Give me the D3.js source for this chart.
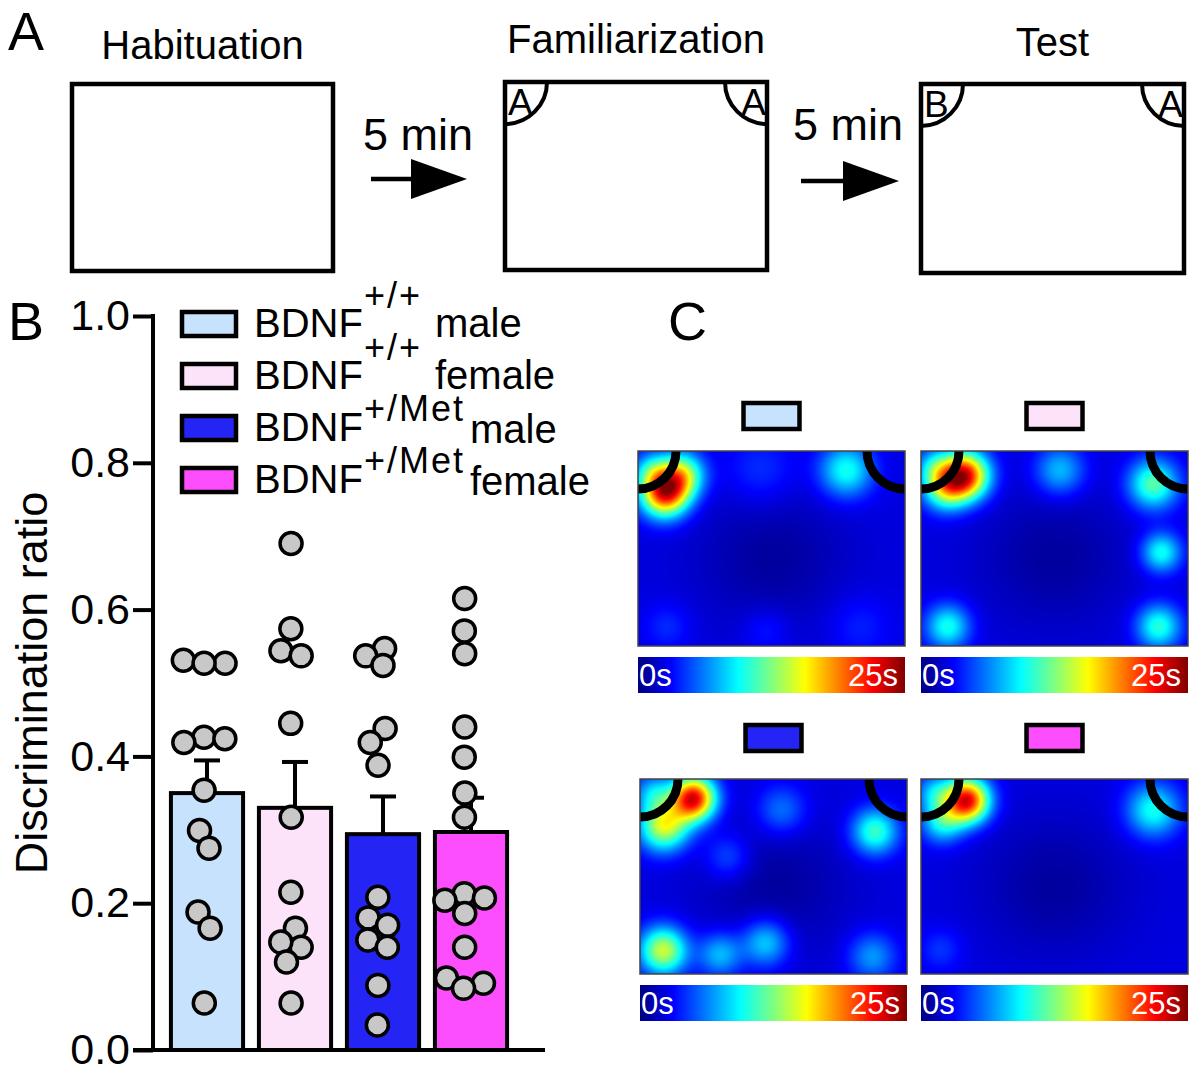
<!DOCTYPE html>
<html>
<head>
<meta charset="utf-8">
<script src="https://cdn.jsdelivr.net/npm/d3@7"></script>
<style>
  body { margin: 0; background: #fff; }
  svg { display: block; font-family: Arial, "Liberation Sans", Helvetica, sans-serif; }
</style>
</head>
<body>
<svg id="fig" width="1193" height="1073"></svg>
<script>
// ---- data ----
const groups = ["wtMale", "wtFemale", "metMale", "metFemale"];
const genotypes = ["+/+", "+/+", "+/Met", "+/Met"];
const sexes = ["male", "female", "male", "female"];
const barColors = ["#c6e2fc", "#fde3fa", "#2424f4", "#fc4efc"];

// discrimination ratio of each animal
const wtMale = [0.527, 0.531, 0.527, 0.426, 0.419, 0.424, 0.354, 0.299, 0.275, 0.188, 0.166, 0.064];
const wtFemale = [0.690, 0.574, 0.544, 0.537, 0.445, 0.317, 0.215, 0.166, 0.140, 0.147, 0.120, 0.064];
const metMale = [0.547, 0.537, 0.524, 0.438, 0.419, 0.388, 0.208, 0.180, 0.170, 0.150, 0.140, 0.088, 0.034];
const metFemale = [0.615, 0.571, 0.540, 0.440, 0.399, 0.350, 0.317, 0.213, 0.207, 0.204, 0.186, 0.140, 0.098, 0.091, 0.084];
const yTicks = [0, 0.2, 0.4, 0.6, 0.8, 1.0];

// panel A protocol
const stages = ["Habituation", "Familiarization", "Test"];
const stageObjects = [[], ["A", "A"], ["B", "A"]];
const interval = "5 min";

// panel C occupancy hotspots: [x (0-1), y (0-1), level, spread]
const heatWtMale = [[0.10, 0.215, 0.76, 0.062], [0.165, 0.12, 0.42, 0.058], [0.05, 0.10, 0.20, 0.05],
  [0.78, 0.10, 0.30, 0.07], [0.46, 0.10, 0.08, 0.09], [0.11, 0.90, 0.07, 0.06], [0.48, 0.92, 0.06, 0.06], [0.83, 0.90, 0.06, 0.08]];
const heatWtFemale = [[0.165, 0.125, 0.76, 0.062], [0.09, 0.19, 0.40, 0.058], [0.05, 0.08, 0.20, 0.05],
  [0.52, 0.10, 0.22, 0.065], [0.87, 0.17, 0.37, 0.065], [0.90, 0.52, 0.30, 0.052], [0.10, 0.90, 0.30, 0.058], [0.89, 0.90, 0.32, 0.058]];
const heatMetMale = [[0.20, 0.10, 0.80, 0.058], [0.09, 0.24, 0.50, 0.065], [0.05, 0.07, 0.20, 0.05],
  [0.53, 0.16, 0.15, 0.065], [0.88, 0.27, 0.34, 0.06], [0.33, 0.40, 0.12, 0.06],
  [0.087, 0.88, 0.48, 0.062], [0.30, 0.90, 0.22, 0.058], [0.47, 0.84, 0.25, 0.062], [0.87, 0.91, 0.18, 0.062]];
const heatMetFemale = [[0.172, 0.11, 0.80, 0.058], [0.05, 0.07, 0.20, 0.05], [0.08, 0.22, 0.28, 0.055],
  [0.87, 0.16, 0.30, 0.07], [0.075, 0.875, 0.08, 0.055]];
const heatmaps = [heatWtMale, heatWtFemale, heatMetMale, heatMetFemale];
const colorbarLabels = ["0s", "25s"];

// ---- setup ----
const svg = d3.select("#fig");
const ink = "#000";
const panelLabel = (t, x, y) => svg.append("text").attr("x", x).attr("y", y)
  .attr("font-size", 54).text(t);

// ================= Panel A =================
panelLabel("A", 8, 50);
const arenas = [
  { x: 72, y: 84, w: 261, h: 187, ty: 59 },
  { x: 505, y: 82, w: 262, h: 188, ty: 53 },
  { x: 921, y: 84, w: 263, h: 189, ty: 56 }
];
const objR = 42;
stages.forEach((s, i) => {
  const a = arenas[i];
  const g = svg.append("g");
  g.append("text").attr("x", a.x + a.w / 2).attr("y", a.ty).attr("text-anchor", "middle")
    .attr("font-size", 40).text(s);
  g.append("rect").attr("x", a.x).attr("y", a.y).attr("width", a.w).attr("height", a.h)
    .attr("fill", "none").attr("stroke", ink).attr("stroke-width", 4.5);
  stageObjects[i].forEach((o, k) => {
    const left = k === 0;
    const cx = left ? a.x : a.x + a.w;
    const p = d3.path();
    p.arc(cx, a.y, objR, left ? 0 : Math.PI / 2, left ? Math.PI / 2 : Math.PI);
    g.append("path").attr("d", p.toString()).attr("fill", "none")
      .attr("stroke", ink).attr("stroke-width", 4);
    g.append("text").attr("x", left ? a.x + 3 : a.x + a.w - 1).attr("y", a.y + 33)
      .attr("text-anchor", left ? "start" : "end").attr("font-size", 37).text(o);
  });
});
// intervals between stages
const gaps = [{ tx: 363, ty: 150, ay: 179, x0: 371, x1: 467 }, { tx: 793, ty: 140, ay: 181, x0: 801, x1: 899 }];
gaps.forEach(gp => {
  svg.append("text").attr("x", gp.tx).attr("y", gp.ty).attr("font-size", 45).text(interval);
  const head = 56;
  svg.append("line").attr("x1", gp.x0).attr("x2", gp.x1 - head + 2).attr("y1", gp.ay).attr("y2", gp.ay)
    .attr("stroke", ink).attr("stroke-width", 4.5);
  svg.append("path")
    .attr("d", `M${gp.x1 - head},${gp.ay - 20}L${gp.x1},${gp.ay}L${gp.x1 - head},${gp.ay + 20}Z`)
    .attr("fill", ink);
});

// ================= Panel B =================
panelLabel("B", 8, 340);
const series = [wtMale, wtFemale, metMale, metFemale];
const y = d3.scaleLinear().domain([0, 1]).range([1050, 316]);
const x = d3.scaleBand().domain(groups).range([163, 515]).paddingInner(0.18).paddingOuter(0.09);
const stats = series.map(v => ({ mean: d3.mean(v), sem: d3.deviation(v) / Math.sqrt(v.length) }));

const plot = svg.append("g");
// bars
plot.selectAll("rect.bar").data(groups).join("rect").attr("class", "bar")
  .attr("x", d => x(d)).attr("width", x.bandwidth())
  .attr("y", (d, i) => y(stats[i].mean)).attr("height", (d, i) => y(0) - y(stats[i].mean))
  .attr("fill", (d, i) => barColors[i]).attr("stroke", ink).attr("stroke-width", 4);
// error bars (upper SEM)
const cap = 13;
groups.forEach((gk, i) => {
  const cx = x(gk) + x.bandwidth() / 2;
  const top = y(stats[i].mean + stats[i].sem);
  plot.append("line").attr("x1", cx).attr("x2", cx).attr("y1", y(stats[i].mean)).attr("y2", top)
    .attr("stroke", ink).attr("stroke-width", 4);
  plot.append("line").attr("x1", cx - cap).attr("x2", cx + cap).attr("y1", top).attr("y2", top)
    .attr("stroke", ink).attr("stroke-width", 4);
});
// individual animals, spread sideways so they don't pile up
groups.forEach((gk, i) => {
  const cx = x(gk) + x.bandwidth() / 2;
  const nodes = series[i].map(v => ({ v, ty: y(v) }));
  d3.forceSimulation(nodes)
    .force("x", d3.forceX(cx).strength(0.06))
    .force("y", d3.forceY(d => d.ty).strength(1))
    .force("c", d3.forceCollide(10.5))
    .stop().tick(300);
  plot.append("g").selectAll("circle").data(nodes).join("circle")
    .attr("cx", d => d.x).attr("cy", d => d.ty).attr("r", 11)
    .attr("fill", "#c8c8c8").attr("stroke", ink).attr("stroke-width", 3.5);
});

// axes
const yAxis = svg.append("g").attr("transform", "translate(153,0)")
  .call(d3.axisLeft(y).tickValues(yTicks).tickFormat(d3.format(".1f")).tickSize(20).tickPadding(3).tickSizeOuter(0));
yAxis.attr("font-size", 43).attr("font-family", null);
yAxis.selectAll("line, path").attr("stroke", ink).attr("stroke-width", 4);
yAxis.select(".domain").attr("d", `M0,${y(1) - 2}V${y(0) + 2}`);
yAxis.selectAll("text").attr("fill", ink);
svg.append("line").attr("x1", 133).attr("x2", 545).attr("y1", y(0)).attr("y2", y(0))
  .attr("stroke", ink).attr("stroke-width", 4);
svg.append("text").attr("transform", "translate(47,683) rotate(-90)").attr("text-anchor", "middle")
  .attr("font-size", 45).text("Discrimination ratio");

// legend
const legend = svg.append("g");
groups.forEach((gk, i) => {
  const by = 312 + i * 52;
  const base = by + 25;
  const met = genotypes[i] !== "+/+";
  legend.append("rect").attr("x", 182).attr("y", by).attr("width", 54).attr("height", 24)
    .attr("fill", barColors[i]).attr("stroke", ink).attr("stroke-width", 4.5);
  const main = legend.append("text").attr("x", 254).attr("y", base).attr("font-size", 40).text("BDNF");
  const x1 = 254 + main.node().getComputedTextLength() + 1;
  const sup = legend.append("text").attr("x", x1).attr("y", base - (met ? 20 : 29))
    .attr("font-size", 36).attr("letter-spacing", 2).text(genotypes[i]);
  const x2 = x1 + sup.node().getComputedTextLength();
  legend.append("text").attr("x", x2 + (met ? 5 : 13)).attr("y", base + (met ? 2 : 0))
    .attr("font-size", 40).text(sexes[i]);
});

// ================= Panel C =================
panelLabel("C", 668, 340);
const jet = d3.scaleLinear()
  .domain([0, 0.125, 0.375, 0.625, 0.875, 1])
  .range(["#00007f", "#0000ff", "#00ffff", "#ffff00", "#ff0000", "#7f0000"])
  .clamp(true);

const defs = svg.append("defs");
const grad = defs.append("linearGradient").attr("id", "jet");
jet.domain().forEach(s => grad.append("stop").attr("offset", s).attr("stop-color", jet(s)));

const cells = [
  { x: 638, y: 451, sy: 403 }, { x: 921, y: 451, sy: 403 },
  { x: 640, y: 779, sy: 725 }, { x: 921, y: 779, sy: 725 }
];
const hw = 267, hh = 195;

function heatImage(spots, w, h) {
  const cv = document.createElement("canvas");
  cv.width = w; cv.height = h;
  const ctx = cv.getContext("2d");
  const img = ctx.createImageData(w, h);
  const ar = h / w;
  for (let j = 0; j < h; j++) {
    for (let i = 0; i < w; i++) {
      const u = (i + 0.5) / w, v = (j + 0.5) / h;
      let val = 0.095 - 0.065 * Math.exp(-((u - 0.5) ** 2) / (2 * 0.2 ** 2) - ((v - 0.55) ** 2) / (2 * 0.25 ** 2));
      for (const [su, sv, a, s] of spots) {
        const dx = u - su, dy = (v - sv) * ar;
        val += a * Math.exp(-(dx * dx + dy * dy) / (2 * s * s));
      }
      const c = d3.rgb(jet(val));
      const k = (j * w + i) * 4;
      img.data[k] = c.r; img.data[k + 1] = c.g; img.data[k + 2] = c.b; img.data[k + 3] = 255;
    }
  }
  ctx.putImageData(img, 0, 0);
  return cv.toDataURL();
}

const arcR = 38;
heatmaps.forEach((spots, i) => {
  const c = cells[i];
  const g = svg.append("g").attr("transform", `translate(${c.x},${c.y})`);
  // group swatch above the map
  g.append("rect").attr("x", hw / 2 - 28).attr("y", c.sy - c.y).attr("width", 56).attr("height", 26)
    .attr("fill", barColors[i]).attr("stroke", ink).attr("stroke-width", 4.5);
  defs.append("clipPath").attr("id", "clip" + i)
    .append("rect").attr("width", hw).attr("height", hh);
  const m = g.append("g").attr("clip-path", `url(#clip${i})`);
  m.append("image").attr("href", heatImage(spots, hw, hh)).attr("width", hw).attr("height", hh)
    .attr("preserveAspectRatio", "none");
  [0, hw].forEach(cx => {
    const p = d3.path();
    p.arc(cx, 0, arcR, 0, Math.PI);
    m.append("path").attr("d", p.toString()).attr("fill", "none")
      .attr("stroke", ink).attr("stroke-width", 9);
  });
  g.append("rect").attr("width", hw).attr("height", hh).attr("fill", "none")
    .attr("stroke", "#444").attr("stroke-width", 1.5);
  // colour bar
  const cb = g.append("g").attr("transform", `translate(0,${hh + 11})`);
  cb.append("rect").attr("width", hw).attr("height", 36).attr("fill", "url(#jet)");
  cb.append("text").attr("x", 1).attr("y", 29).attr("font-size", 31).attr("fill", "#fff").text(colorbarLabels[0]);
  cb.append("text").attr("x", hw - 7).attr("y", 29).attr("text-anchor", "end").attr("font-size", 31)
    .attr("fill", "#fff").text(colorbarLabels[1]);
});
</script>
</body>
</html>
